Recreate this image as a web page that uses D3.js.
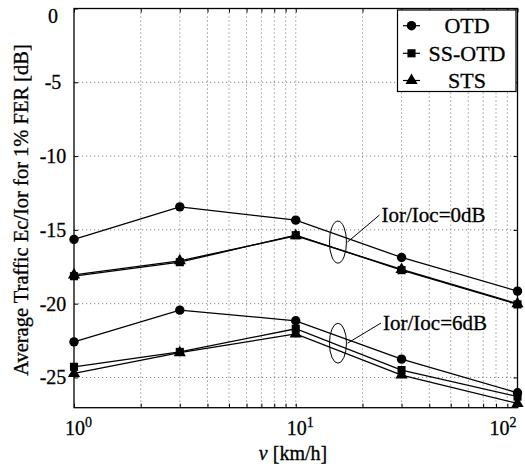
<!DOCTYPE html>
<html>
<head>
<meta charset="utf-8">
<script src="https://cdn.jsdelivr.net/npm/d3@7"></script>
<style>
  html, body { margin: 0; padding: 0; background: #fff; }
  svg text {
    font-family: "Liberation Serif", "DejaVu Serif", "Times New Roman", Times, serif;
    fill: #000; stroke: #000; stroke-width: 0.3px;
  }
</style>
</head>
<body>
<svg id="chart" width="525" height="468" style="display:block"></svg>
<script>
// Mobile speed [km/h]
const speeds = [1, 3, 10, 30, 100];

// Required traffic Ec/Ior for 1% FER [dB], Ior/Ioc = 0 dB
const otd0   = [-15.65, -13.44, -14.34, -16.87, -19.15];
const ssOtd0 = [-18.14, -17.19, -15.36, -17.73, -20.05];
const sts0   = [-18.05, -17.10, -15.40, -17.68, -20.00];

// Required traffic Ec/Ior for 1% FER [dB], Ior/Ioc = 6 dB
const otd6   = [-22.59, -20.44, -21.16, -23.76, -26.04];
const ssOtd6 = [-24.28, -23.27, -21.70, -24.50, -26.30];
const sts6   = [-24.73, -23.32, -22.05, -24.84, -26.76];

const seriesNames = ["OTD", "SS-OTD", "STS"];
const yTicks = [0, -5, -10, -15, -20, -25];
const xMajorTicks = [1, 10, 100];
const groupLabels = ["Ior/Ioc=0dB", "Ior/Ioc=6dB"];

const svg = d3.select("#chart");
const plotL = 74, plotR = 517.5, plotT = 8.5, plotB = 407.7;

const x = d3.scaleLog().domain([1, 100]).range([plotL, plotR]);
const y = d3.scaleLinear().domain([0, -27.05]).range([plotT, plotB]);

const xMinor = [];
for (let d = 1; d < 100; d *= 10) for (let k = 2; k <= 9; k++) xMinor.push(d * k);

// dotted grid
const grid = svg.append("g").attr("stroke", "#666").attr("stroke-width", 0.8)
  .attr("stroke-dasharray", "1.2,2.8");
grid.selectAll(".gx").data(xMinor.concat([10])).join("line")
  .attr("x1", d => x(d)).attr("x2", d => x(d)).attr("y1", plotT).attr("y2", plotB);
grid.selectAll(".gy").data(yTicks.slice(1)).join("line")
  .attr("x1", plotL).attr("x2", plotR).attr("y1", d => y(d)).attr("y2", d => y(d));

// inward ticks on all four sides
const tickLen = 4;
const xAxisB = d3.axisBottom(x).tickValues(xMajorTicks.concat(xMinor)).tickSize(-tickLen).tickFormat("");
const xAxisT = d3.axisTop(x).tickValues(xMajorTicks.concat(xMinor)).tickSize(-tickLen).tickFormat("");
const yAxisL = d3.axisLeft(y).tickValues(yTicks).tickSize(-tickLen).tickFormat("");
const yAxisR = d3.axisRight(y).tickValues(yTicks).tickSize(-tickLen).tickFormat("");
[[xAxisB, `translate(0,${plotB})`], [xAxisT, `translate(0,${plotT})`],
 [yAxisL, `translate(${plotL},0)`], [yAxisR, `translate(${plotR},0)`]].forEach(([ax, tr]) => {
  const g = svg.append("g").attr("transform", tr).call(ax);
  g.select(".domain").remove();
  g.selectAll("line").attr("stroke", "#000").attr("stroke-width", 1);
});

// frame
svg.append("rect").attr("x", plotL).attr("y", plotT)
  .attr("width", plotR - plotL).attr("height", plotB - plotT)
  .attr("fill", "none").attr("stroke", "#000").attr("stroke-width", 1.3);

// y tick labels
svg.append("g").selectAll("text").data(yTicks).join("text")
  .attr("x", 53).attr("y", d => Math.max(y(d), 16))
  .attr("dy", "0.35em").attr("text-anchor", "middle")
  .attr("font-size", 20).text(d => d);

// x tick labels as powers of ten
const xl = svg.append("g").selectAll("text").data(xMajorTicks).join("text")
  .attr("y", 435).attr("font-size", 20)
  .attr("x", (d, i) => i === xMajorTicks.length - 1 ? x(d) - 28 : x(d) - 9);
xl.append("tspan").text("10");
xl.append("tspan").attr("dy", -8).attr("font-size", 14).text(d => Math.round(Math.log10(d)));

// axis titles
const xt = svg.append("text").attr("x", 293).attr("y", 460)
  .attr("text-anchor", "middle").attr("font-size", 20);
xt.append("tspan").attr("font-style", "italic").text("v");
xt.append("tspan").text(" [km/h]");

svg.append("text").attr("transform", "translate(28,210) rotate(-90)")
  .attr("text-anchor", "middle").attr("font-size", 20.5)
  .text("Average Traffic Ec/Ior for 1% FER [dB]");

// curves
const line = d3.line().x((d, i) => x(speeds[i])).y(d => y(d));
const groups = [[otd0, ssOtd0, sts0], [otd6, ssOtd6, sts6]];

const symbols = [d3.symbolCircle, d3.symbolSquare, d3.symbolTriangle];
const symSizes = [70, 66, 64];

groups.forEach(set => {
  set.forEach(vals => {
    svg.append("path").datum(vals).attr("d", line)
      .attr("fill", "none").attr("stroke", "#000").attr("stroke-width", 1.3);
  });
});
groups.forEach(set => {
  // triangles first so squares and circles sit on top
  [2, 1, 0].forEach(s => {
    svg.append("g").selectAll("path").data(set[s]).join("path")
      .attr("transform", (d, i) => `translate(${x(speeds[i])},${y(d)})`)
      .attr("d", d3.symbol().type(symbols[s]).size(symSizes[s]))
      .attr("fill", "#000");
  });
});

// group annotations: ellipse around the curves with a leader line to the label
const annot = [
  { label: groupLabels[0], at: 15.5, grp: 0, ry: 21, tx: 381.5, ty: 222 },
  { label: groupLabels[1], at: 15.5, grp: 1, ry: 20, tx: 383, ty: 330 }
];
annot.forEach(a => {
  const cx = x(a.at);
  const ys = groups[a.grp].map(v => {
    // curve position at the ellipse centre, interpolated along the log axis
    const lx = d3.scaleLog().domain([10, 30]).range([v[2], v[3]]);
    return y(lx(a.at));
  });
  const cy = (d3.min(ys) + d3.max(ys)) / 2;
  svg.append("ellipse").attr("cx", cx).attr("cy", cy).attr("rx", 8.5).attr("ry", a.ry)
    .attr("fill", "none").attr("stroke", "#000").attr("stroke-width", 1);
  svg.append("line").attr("x1", cx + 9.5).attr("y1", cy).attr("x2", a.tx - 2).attr("y2", a.ty - 7)
    .attr("stroke", "#000").attr("stroke-width", 1);
  svg.append("text").attr("x", a.tx).attr("y", a.ty).attr("font-size", 21).text(a.label);
});

// legend
const lg = svg.append("g");
lg.append("rect").attr("x", 397.5).attr("y", 10).attr("width", 118.5).attr("height", 81.5)
  .attr("fill", "#fff").attr("stroke", "#000").attr("stroke-width", 1.2);
const rowY = [25.7, 53.3, 80.5];
seriesNames.forEach((name, s) => {
  lg.append("line").attr("x1", 403).attr("x2", 420).attr("y1", rowY[s]).attr("y2", rowY[s])
    .attr("stroke", "#000").attr("stroke-width", 1.2);
  lg.append("path").attr("transform", `translate(411.5,${rowY[s]})`)
    .attr("d", d3.symbol().type(symbols[s]).size(symSizes[s])).attr("fill", "#000");
  lg.append("text").attr("x", 467).attr("y", rowY[s]).attr("dy", "0.35em")
    .attr("text-anchor", "middle").attr("font-size", 22).text(name);
});
</script>
</body>
</html>
